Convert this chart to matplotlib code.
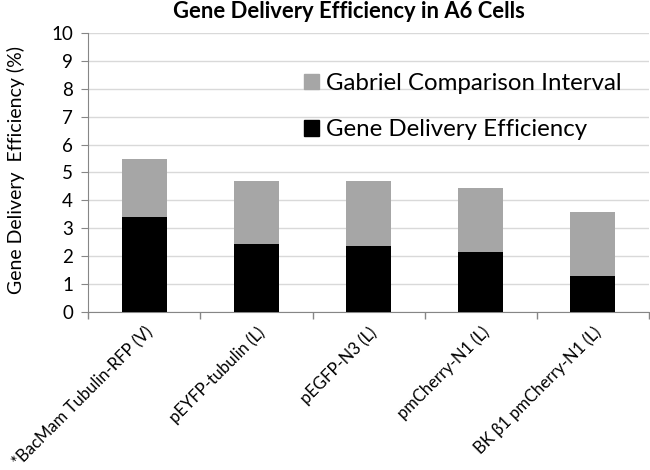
import numpy as np
import matplotlib.pyplot as plt
from matplotlib.patches import Patch

# values
labels = ["*BacMam Tubulin-RFP (V)", "pEYFP-tubulin (L)", "pEGFP-N3 (L)",
          "pmCherry-N1 (L)", "BK \u03b21 pmCherry-N1 (L)"]
efficiency = [3.41, 2.42, 2.37, 2.16, 1.27]
interval_top = [5.48, 4.70, 4.70, 4.46, 3.57]

plt.rcParams['font.family'] = ['Lato', 'DejaVu Sans']

x = np.arange(len(labels))
interval = np.array(interval_top) - np.array(efficiency)

fig = plt.figure(figsize=(6.5, 4.7), dpi=100)
ax = fig.add_axes([0.136, 0.337, 0.862, 0.592])

ax.bar(x, efficiency, width=0.4, color="black", zorder=3)
ax.bar(x, interval, width=0.4, bottom=efficiency, color="#a6a6a6", zorder=3)

ax.set_xlim(-0.5, len(labels) - 0.5)
ax.set_ylim(0, 10)
ax.set_yticks(range(0, 11))
ax.yaxis.grid(True, color="#d9d9d9", linewidth=1, zorder=0)

# category labels sit on the bars, ticks sit between them
ax.set_xticks(x)
ax.set_xticklabels(labels, rotation=45, ha="right", rotation_mode="anchor", fontsize=12)
ax.tick_params(axis="x", which="major", length=0, pad=9)
ax.set_xticks(np.arange(-0.5, len(labels)), minor=True)
ax.tick_params(axis="x", which="minor", length=5, color="#868686", width=1)
ax.tick_params(axis="y", length=5, color="#868686", labelsize=13.5, pad=6)

for s in ["top", "right"]:
    ax.spines[s].set_visible(False)
for s in ["left", "bottom"]:
    ax.spines[s].set_color("#868686")

ax.set_ylabel("Gene Delivery  Efficiency (%)", fontsize=14)
ax.yaxis.set_label_coords(-0.113, 0.51)

handles = [Patch(color="#a6a6a6"), Patch(color="black")]
ax.legend(handles, ["Gabriel Comparison Interval", "Gene Delivery Efficiency"],
          loc="upper left", bbox_to_anchor=(0.385, 0.857), frameon=False,
          fontsize=17.3, handlelength=0.6, handleheight=0.6, handletextpad=0.3,
          labelspacing=1.05, borderpad=0, borderaxespad=0)

fig.text(0.537, 0.9755, "Gene Delivery Efficiency in A6 Cells", ha="center", va="center",
         fontsize=15.8, fontweight="bold")

fig.savefig("out.png")
